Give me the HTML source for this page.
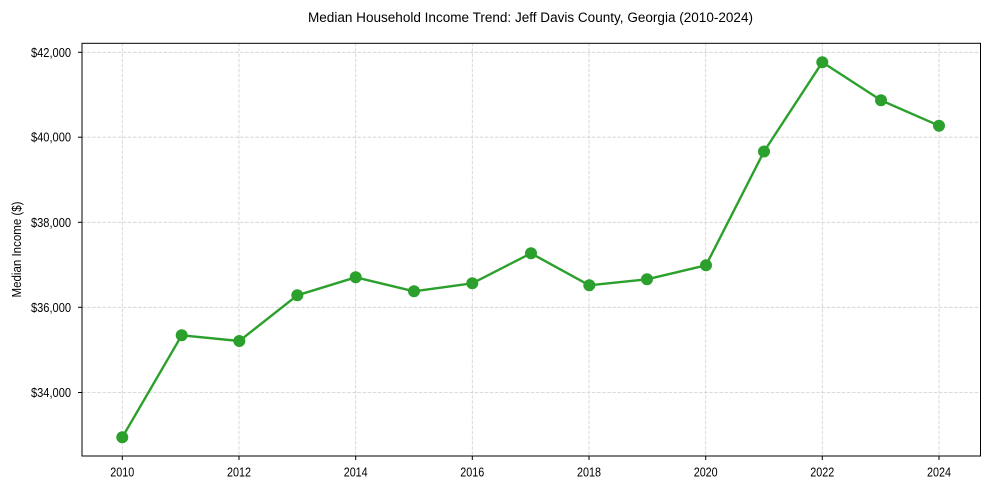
<!DOCTYPE html>
<html>
<head>
<meta charset="utf-8">
<style>
  html, body { margin:0; padding:0; background:#fff; }
  svg { display:block; }
  text { font-family: "Liberation Sans", Arial, sans-serif; fill:#000; }
</style>
</head>
<body>
<svg width="989" height="490" viewBox="0 0 989 490" xmlns="http://www.w3.org/2000/svg">
  <rect x="0" y="0" width="989" height="490" fill="#fff"/>

  <!-- Title -->
  <text x="530.5" y="22" font-size="13.5" text-anchor="middle" textLength="445" lengthAdjust="spacingAndGlyphs">Median Household Income Trend: Jeff Davis County, Georgia (2010-2024)</text>

  <!-- Grid -->
  <g stroke="#d0d0d0" stroke-width="0.8" stroke-dasharray="3.5,1.6" fill="none">
    <line x1="82" y1="52.3" x2="980.5" y2="52.3"/>
    <line x1="82" y1="137.2" x2="980.5" y2="137.2"/>
    <line x1="82" y1="222.3" x2="980.5" y2="222.3"/>
    <line x1="82" y1="307.3" x2="980.5" y2="307.3"/>
    <line x1="82" y1="392.5" x2="980.5" y2="392.5"/>
    <line x1="122.3" y1="43.3" x2="122.3" y2="456"/>
    <line x1="239" y1="43.3" x2="239" y2="456"/>
    <line x1="355.7" y1="43.3" x2="355.7" y2="456"/>
    <line x1="472.3" y1="43.3" x2="472.3" y2="456"/>
    <line x1="589" y1="43.3" x2="589" y2="456"/>
    <line x1="705.7" y1="43.3" x2="705.7" y2="456"/>
    <line x1="822.3" y1="43.3" x2="822.3" y2="456"/>
    <line x1="939" y1="43.3" x2="939" y2="456"/>
  </g>

  <!-- Axes frame -->
  <rect x="82" y="43.3" width="898.5" height="412.7" fill="none" stroke="#000" stroke-width="1"/>

  <!-- Y ticks -->
  <g stroke="#000" stroke-width="1">
    <line x1="78" y1="52.3" x2="82" y2="52.3"/>
    <line x1="78" y1="137.2" x2="82" y2="137.2"/>
    <line x1="78" y1="222.3" x2="82" y2="222.3"/>
    <line x1="78" y1="307.3" x2="82" y2="307.3"/>
    <line x1="78" y1="392.5" x2="82" y2="392.5"/>
  </g>
  <g font-size="12.5" text-anchor="end">
    <text x="71" y="56.8" textLength="40" lengthAdjust="spacingAndGlyphs">$42,000</text>
    <text x="71" y="141.7" textLength="40" lengthAdjust="spacingAndGlyphs">$40,000</text>
    <text x="71" y="226.8" textLength="40" lengthAdjust="spacingAndGlyphs">$38,000</text>
    <text x="71" y="311.8" textLength="40" lengthAdjust="spacingAndGlyphs">$36,000</text>
    <text x="71" y="397" textLength="40" lengthAdjust="spacingAndGlyphs">$34,000</text>
  </g>

  <!-- X ticks -->
  <g stroke="#000" stroke-width="1">
    <line x1="122.3" y1="456" x2="122.3" y2="460"/>
    <line x1="239" y1="456" x2="239" y2="460"/>
    <line x1="355.7" y1="456" x2="355.7" y2="460"/>
    <line x1="472.3" y1="456" x2="472.3" y2="460"/>
    <line x1="589" y1="456" x2="589" y2="460"/>
    <line x1="705.7" y1="456" x2="705.7" y2="460"/>
    <line x1="822.3" y1="456" x2="822.3" y2="460"/>
    <line x1="939" y1="456" x2="939" y2="460"/>
  </g>
  <g font-size="12.5" text-anchor="middle">
    <text x="122.3" y="476.3" textLength="24" lengthAdjust="spacingAndGlyphs">2010</text>
    <text x="239" y="476.3" textLength="24" lengthAdjust="spacingAndGlyphs">2012</text>
    <text x="355.7" y="476.3" textLength="24" lengthAdjust="spacingAndGlyphs">2014</text>
    <text x="472.3" y="476.3" textLength="24" lengthAdjust="spacingAndGlyphs">2016</text>
    <text x="589" y="476.3" textLength="24" lengthAdjust="spacingAndGlyphs">2018</text>
    <text x="705.7" y="476.3" textLength="24" lengthAdjust="spacingAndGlyphs">2020</text>
    <text x="822.3" y="476.3" textLength="24" lengthAdjust="spacingAndGlyphs">2022</text>
    <text x="939" y="476.3" textLength="24" lengthAdjust="spacingAndGlyphs">2024</text>
  </g>

  <!-- Y label -->
  <text x="0" y="0" font-size="12.5" text-anchor="middle" textLength="96" lengthAdjust="spacingAndGlyphs" transform="translate(21,249.5) rotate(-90)">Median Income ($)</text>

  <!-- Series -->
  <polyline fill="none" stroke="#2ca02c" stroke-width="2.4" stroke-linejoin="round" stroke-linecap="round"
    points="122.3,437.3 181.7,335.3 239.3,341 297.3,295.3 355.7,277.3 414,291.3 472.3,283.3 531,253.3 589.3,285.3 647,279.3 706,265.3 764,151.5 822.3,62.3 881,100.3 939,125.7"/>
  <g fill="#2ca02c">
    <circle cx="122.3" cy="437.3" r="6"/>
    <circle cx="181.7" cy="335.3" r="6"/>
    <circle cx="239.3" cy="341" r="6"/>
    <circle cx="297.3" cy="295.3" r="6"/>
    <circle cx="355.7" cy="277.3" r="6"/>
    <circle cx="414" cy="291.3" r="6"/>
    <circle cx="472.3" cy="283.3" r="6"/>
    <circle cx="531" cy="253.3" r="6"/>
    <circle cx="589.3" cy="285.3" r="6"/>
    <circle cx="647" cy="279.3" r="6"/>
    <circle cx="706" cy="265.3" r="6"/>
    <circle cx="764" cy="151.5" r="6"/>
    <circle cx="822.3" cy="62.3" r="6"/>
    <circle cx="881" cy="100.3" r="6"/>
    <circle cx="939" cy="125.7" r="6"/>
  </g>
</svg>
</body>
</html>
